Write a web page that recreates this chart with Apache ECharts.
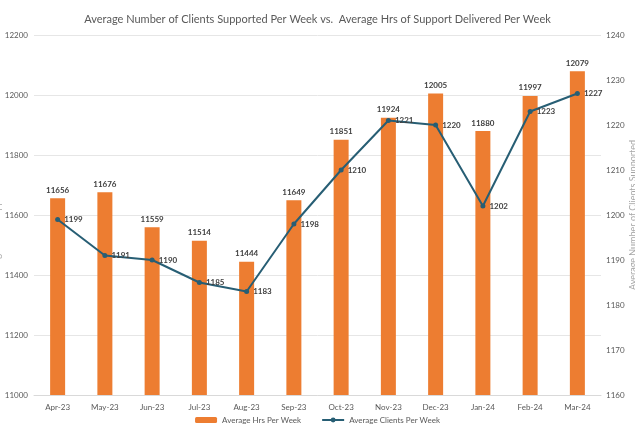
<!DOCTYPE html>
<html>
<head>
<meta charset="utf-8">
<script src="https://cdn.jsdelivr.net/npm/echarts@6/dist/echarts.min.js"></script>
<style>html,body{margin:0;padding:0;background:#fff}#c{width:635px;height:433px}</style>
</head>
<body>
<div id="c"></div>
<script>
const categories = ['Apr-23','May-23','Jun-23','Jul-23','Aug-23','Sep-23','Oct-23','Nov-23','Dec-23','Jan-24','Feb-24','Mar-24'];
const hrsPerWeek = [11656,11676,11559,11514,11444,11649,11851,11924,12005,11880,11997,12079];
const clientsPerWeek = [1199,1191,1190,1185,1183,1198,1210,1221,1220,1202,1223,1227];

const FONT = 'Lato';
const plain = v => String(v);
const chart = echarts.init(document.getElementById('c'));
chart.setOption({
  animation: false,
  backgroundColor: '#fff',
  textStyle: { fontFamily: FONT },
  title: {
    text: 'Average Number of Clients Supported Per Week vs.  Average Hrs of Support Delivered Per Week',
    left: 'center', top: 9,
    textStyle: { fontFamily: FONT, fontSize: 11, fontWeight: 'normal', color: '#595959' }
  },
  legend: {
    bottom: 4, left: 'center',
    itemWidth: 22, itemHeight: 6, itemGap: 20,
    textStyle: { fontFamily: FONT, fontSize: 8, color: '#595959' },
    data: ['Average Hrs Per Week', 'Average Clients Per Week']
  },
  grid: { left: 34, right: 34, top: 35, bottom: 38, outerBoundsMode: 'none', containLabel: false },
  xAxis: {
    type: 'category', data: categories,
    axisLine: { lineStyle: { color: '#d9d9d9' } },
    axisTick: { show: false },
    axisLabel: { fontFamily: FONT, fontSize: 8, color: '#595959', margin: 8 }
  },
  yAxis: [
    {
      type: 'value', min: 11000, max: 12200, interval: 200,
      name: 'Average Hrs of Support Delivered', nameLocation: 'middle', nameGap: 32, nameRotate: 90,
      nameMoveOverlap: false,
      nameTextStyle: { fontFamily: FONT, fontSize: 9, color: '#a6a6a6' },
      axisLine: { show: false }, axisTick: { show: false },
      axisLabel: { fontFamily: FONT, fontSize: 8, color: '#595959', margin: 6, formatter: plain },
      splitLine: { lineStyle: { color: '#e6e6e6' } }
    },
    {
      type: 'value', min: 1160, max: 1240, interval: 10,
      name: 'Average Number of Clients Supported', nameLocation: 'middle', nameGap: 28, nameRotate: 90,
      nameMoveOverlap: false,
      nameTextStyle: { fontFamily: FONT, fontSize: 9, color: '#a6a6a6' },
      axisLine: { show: false }, axisTick: { show: false },
      axisLabel: { fontFamily: FONT, fontSize: 8, color: '#595959', margin: 5, formatter: plain },
      splitLine: { show: false }
    }
  ],
  series: [
    {
      name: 'Average Hrs Per Week', type: 'bar', yAxisIndex: 0,
      data: hrsPerWeek, barWidth: 15,
      itemStyle: { color: '#ED7D31' },
      label: { show: true, position: 'top', distance: 4, fontFamily: FONT, fontSize: 8, fontWeight: 'bold', color: '#404040', formatter: p => String(p.value) }
    },
    {
      name: 'Average Clients Per Week', type: 'line', yAxisIndex: 1,
      data: clientsPerWeek,
      symbol: 'circle', symbolSize: 5,
      lineStyle: { color: '#275E74', width: 2 },
      itemStyle: { color: '#275E74' },
      label: { show: true, position: 'right', distance: 4, fontFamily: FONT, fontSize: 8, fontWeight: 'bold', color: '#404040', formatter: p => String(p.value) }
    }
  ]
});
</script>
</body>
</html>
